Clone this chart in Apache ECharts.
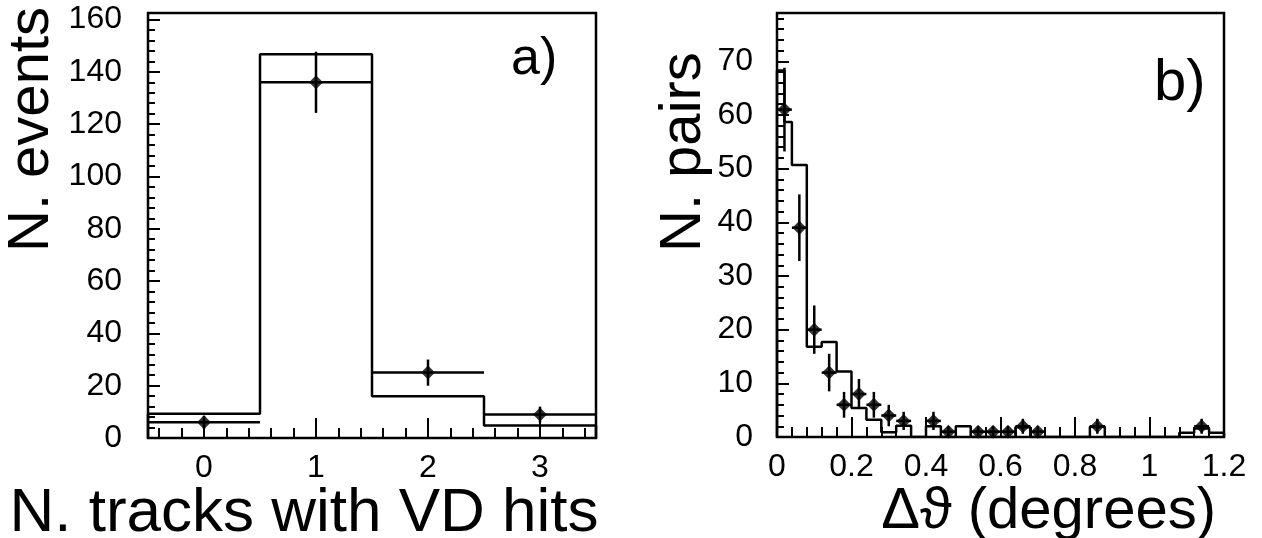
<!DOCTYPE html>
<html>
<head>
<meta charset="utf-8">
<title>VD hits and delta theta</title>
<script src="https://cdn.jsdelivr.net/npm/echarts@6.0.0/dist/echarts.min.js"></script>
<style>
  html, body { margin: 0; padding: 0; background: #fff; }
  #chart { width: 1262px; height: 538px; }
</style>
</head>
<body>
<div id="chart"></div>
<script>
// panel a) : N. tracks with VD hits
const binEdgesA = [-0.5, 0.5, 1.5, 2.5, 3.5]
const mcA = [9.3, 146.7, 16.0, 4.8]
const dataXA = [0, 1, 2, 3]
const dataYA = [6, 136, 25, 9]
const errYA = [2.5, 11.7, 5, 3]
const halfBinA = 0.5
const xLabelsA = [0, 1, 2, 3]
const yLabelsA = [0, 20, 40, 60, 80, 100, 120, 140, 160]

// panel b) : delta theta (degrees)
const binEdgesB = [0, 0.02, 0.04, 0.08, 0.12, 0.16, 0.20, 0.24, 0.28, 0.32, 0.36, 0.40,
  0.44, 0.48, 0.52, 0.56, 0.60, 0.64, 0.68, 0.72, 0.76, 0.80, 0.84, 0.88, 0.92, 0.96,
  1.00, 1.04, 1.08, 1.12, 1.16, 1.20]
const mcB = [68.3, 58.7, 50.7, 16.8, 17.7, 12.2, 5.4, 3.2, 0.9, 2.1, 0, 2.0, 0, 2.0,
  0, 0, 0, 1.8, 0, 0, 0, 0, 1.9, 0, 0, 0, 0, 0, 0.8, 1.6, 0.8]
const dataXB = [0.02, 0.06, 0.10, 0.14, 0.18, 0.22, 0.26, 0.30, 0.34, 0.42, 0.46,
  0.54, 0.58, 0.62, 0.66, 0.70, 0.86, 1.14]
const dataYB = [61, 39, 20, 12, 6, 8, 6, 4, 3, 3, 1, 1, 1, 1, 2, 1, 2, 2]
const errYB = [7.8, 6.2, 4.5, 3.5, 2.4, 2.8, 2.4, 2, 1.7, 1.7, 1, 1, 1, 1, 1.4, 1, 1.4, 1.4]
const halfBinB = 0.02
const xLabelsB = [0, 0.2, 0.4, 0.6, 0.8, 1, 1.2]
const yLabelsB = [0, 10, 20, 30, 40, 50, 60, 70]

const FONT = "'Liberation Sans', 'DejaVu Sans', sans-serif"
const LW = 2.5
const TICK_FONT = 32

// minor tick positions (axis decoration only)
const steps = (from, to, step) => {
  const out = []
  for (let v = from; v <= to + 1e-9; v += step) out.push(Math.round(v * 1000) / 1000)
  return out
}

// histogram outline as step points
const histPoints = (edges, vals) => {
  const pts = [[edges[0], 0]]
  vals.forEach((v, i) => {
    pts.push([edges[i], v])
    pts.push([edges[i + 1], v])
  })
  pts.push([edges[edges.length - 1], 0])
  return pts
}

const errorBars = (params, api) => {
  const x = api.value(0)
  const y = api.value(1)
  const dx = api.value(2)
  const dy = api.value(3)
  const l = api.coord([x - dx, y])
  const r = api.coord([x + dx, y])
  const t = api.coord([x, y + dy])
  const b = api.coord([x, y - dy])
  const style = { stroke: '#000', lineWidth: LW }
  return {
    type: 'group',
    children: [
      { type: 'line', shape: { x1: l[0], y1: l[1], x2: r[0], y2: r[1] }, style },
      { type: 'line', shape: { x1: t[0], y1: t[1], x2: b[0], y2: b[1] }, style }
    ]
  }
}

const noLine = { show: false, onZero: false }

const majorX = (grid, min, max, values) => ({
  gridIndex: grid, type: 'value', min, max, position: 'bottom',
  axisLine: noLine,
  splitLine: { show: false },
  axisTick: { show: true, inside: true, length: 20, customValues: values, lineStyle: { color: '#000', width: 2 } },
  axisLabel: { show: true, customValues: values, margin: 14, color: '#000', fontSize: TICK_FONT, fontFamily: FONT, formatter: (v) => String(v) }
})
const minorX = (grid, min, max, values) => ({
  gridIndex: grid, type: 'value', min, max, position: 'bottom', offset: 0,
  axisLine: noLine,
  splitLine: { show: false },
  axisTick: { show: true, inside: true, length: 10, customValues: values, lineStyle: { color: '#000', width: 2 } },
  axisLabel: { show: false }
})
const majorY = (grid, max, values, margin) => ({
  gridIndex: grid, type: 'value', min: 0, max, position: 'left',
  axisLine: noLine,
  splitLine: { show: false },
  axisTick: { show: true, inside: true, length: 12, customValues: values, lineStyle: { color: '#000', width: 2 } },
  axisLabel: { show: true, customValues: values, margin, color: '#000', fontSize: TICK_FONT, fontFamily: FONT }
})
const minorY = (grid, max, values) => ({
  gridIndex: grid, type: 'value', min: 0, max, position: 'left', offset: 0,
  axisLine: noLine,
  splitLine: { show: false },
  axisTick: { show: true, inside: true, length: 7, customValues: values, lineStyle: { color: '#000', width: 2 } },
  axisLabel: { show: false }
})

const chart = echarts.init(document.getElementById('chart'), null, { renderer: 'canvas' })

chart.setOption({
  animation: false,
  backgroundColor: '#fff',
  grid: [
    { left: 148, top: 13, width: 448, height: 425, show: true, borderColor: '#000', borderWidth: LW, backgroundColor: 'transparent' },
    { left: 777, top: 13, width: 447, height: 424, show: true, borderColor: '#000', borderWidth: LW, backgroundColor: 'transparent' }
  ],
  xAxis: [
    majorX(0, -0.5, 3.5, xLabelsA),
    minorX(0, -0.5, 3.5, steps(-0.4, 3.4, 0.2)),
    majorX(1, 0, 1.2, xLabelsB),
    minorX(1, 0, 1.2, steps(0.04, 1.16, 0.04))
  ],
  yAxis: [
    majorY(0, 162.5, yLabelsA, 26),
    minorY(0, 162.5, steps(4, 160, 4)),
    majorY(1, 79, yLabelsB, 24),
    minorY(1, 79, steps(2, 78, 2))
  ],
  series: [
    {
      type: 'line', xAxisIndex: 0, yAxisIndex: 0,
      data: histPoints(binEdgesA, mcA),
      showSymbol: false, symbol: 'none',
      lineStyle: { color: '#000', width: LW }
    },
    {
      type: 'custom', xAxisIndex: 0, yAxisIndex: 0,
      renderItem: errorBars,
      encode: { x: 0, y: 1 },
      data: dataXA.map((x, i) => [x, dataYA[i], halfBinA, errYA[i]])
    },
    {
      type: 'scatter', xAxisIndex: 0, yAxisIndex: 0,
      symbol: 'diamond', symbolSize: 14,
      itemStyle: { color: '#000' },
      data: dataXA.map((x, i) => [x, dataYA[i]])
    },
    {
      type: 'line', xAxisIndex: 2, yAxisIndex: 2,
      data: histPoints(binEdgesB, mcB),
      showSymbol: false, symbol: 'none',
      lineStyle: { color: '#000', width: LW }
    },
    {
      type: 'custom', xAxisIndex: 2, yAxisIndex: 2,
      renderItem: errorBars,
      encode: { x: 0, y: 1 },
      data: dataXB.map((x, i) => [x, dataYB[i], halfBinB, errYB[i]])
    },
    {
      type: 'scatter', xAxisIndex: 2, yAxisIndex: 2,
      symbol: 'diamond', symbolSize: 14,
      itemStyle: { color: '#000' },
      data: dataXB.map((x, i) => [x, dataYB[i]])
    }
  ],
  graphic: [
    {
      type: 'text', x: 32, y: 252, rotation: Math.PI / 2,
      style: { text: 'N. events', font: `58px ${FONT}`, fill: '#000', textAlign: 'left', textVerticalAlign: 'middle' }
    },
    {
      type: 'text', x: 684, y: 252, rotation: Math.PI / 2,
      style: { text: 'N. pairs', font: `58px ${FONT}`, fill: '#000', textAlign: 'left', textVerticalAlign: 'middle' }
    },
    {
      type: 'text', x: 304, y: 514,
      style: { text: 'N. tracks with VD hits', font: `62px ${FONT}`, fill: '#000', textAlign: 'center', textVerticalAlign: 'middle' }
    },
    {
      type: 'text', x: 1216, y: 512,
      style: { text: 'Δϑ (degrees)', font: `58px ${FONT}`, fill: '#000', textAlign: 'right', textVerticalAlign: 'middle' }
    },
    {
      type: 'text', x: 511, y: 60,
      style: { text: 'a)', font: `52px ${FONT}`, fill: '#000', textAlign: 'left', textVerticalAlign: 'middle' }
    },
    {
      type: 'text', x: 1154, y: 84,
      style: { text: 'b)', font: `58px ${FONT}`, fill: '#000', textAlign: 'left', textVerticalAlign: 'middle' }
    }
  ]
})
</script>
</body>
</html>
